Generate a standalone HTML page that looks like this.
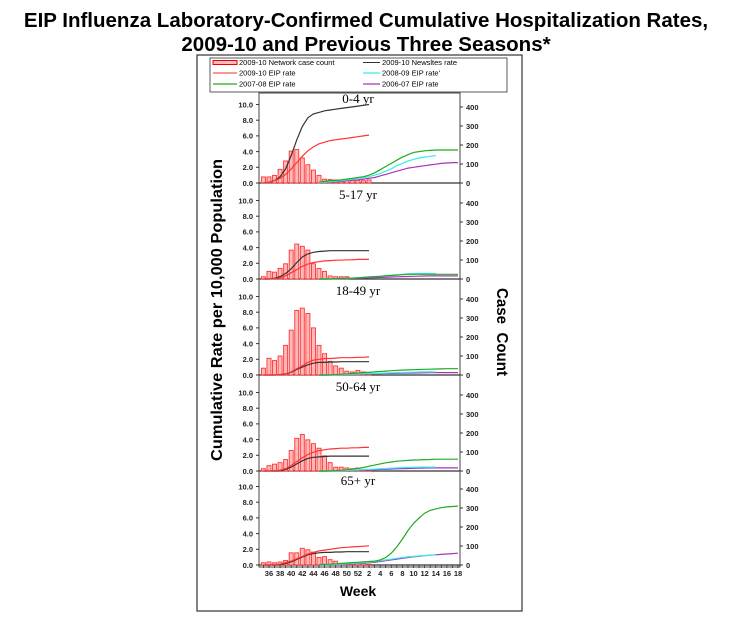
<!DOCTYPE html>
<html><head><meta charset="utf-8"><style>
html,body{margin:0;padding:0;background:#fff;}
svg{display:block;font-family:"Liberation Sans",Arial,sans-serif;}
</style></head><body>
<svg id="chart" width="730" height="620" viewBox="0 0 730 620" xmlns="http://www.w3.org/2000/svg">
<text x="366" y="27" text-anchor="middle" font-size="20.5" font-weight="bold">EIP Influenza Laboratory-Confirmed Cumulative Hospitalization Rates,</text>
<text x="366" y="51" text-anchor="middle" font-size="20.5" font-weight="bold">2009-10 and Previous Three Seasons*</text>
<rect x="197" y="55" width="325" height="556" fill="none" stroke="#333" stroke-width="1.2"/>
<g>
<rect x="210" y="58" width="297" height="34" fill="#fff" stroke="#333" stroke-width="0.8"/>
<g><rect x="213" y="60.5" width="24" height="4" fill="#fbb" stroke="#e00" stroke-width="1"/><text x="239" y="65" font-size="7.5">2009-10 Network case count</text></g>
<g><line x1="363" y1="62.5" x2="380" y2="62.5" stroke="#333" stroke-width="1"/><text x="382" y="65" font-size="7.5">2009-10 Newsltes rate</text></g>
<g><line x1="213" y1="73" x2="237" y2="73" stroke="#f55" stroke-width="1.2"/><text x="239" y="75.5" font-size="7.5">2009-10 EIP rate</text></g>
<g><line x1="363" y1="73" x2="380" y2="73" stroke="#3ee" stroke-width="1.2"/><text x="382" y="75.5" font-size="7.5">2008-09 EIP rate'</text></g>
<g><line x1="213" y1="84" x2="237" y2="84" stroke="#2a2" stroke-width="1.2"/><text x="239" y="86.5" font-size="7.5">2007-08 EIP rate</text></g>
<g><line x1="363" y1="84" x2="380" y2="84" stroke="#a3b" stroke-width="1.2"/><text x="382" y="86.5" font-size="7.5">2006-07 EIP rate</text></g>
</g>
<text transform="translate(222,310) rotate(-90)" text-anchor="middle" font-size="16" font-weight="bold" textLength="302" lengthAdjust="spacingAndGlyphs">Cumulative Rate per 10,000 Population</text>
<text transform="translate(497,332) rotate(90)" text-anchor="middle" font-size="16" font-weight="bold" xml:space="preserve" textLength="88" lengthAdjust="spacingAndGlyphs">Case  Count</text>
<text x="358" y="596" text-anchor="middle" font-size="14" font-weight="bold">Week</text>
<g id="plot"></g>
</svg>
<script>
const panelNames = ["0-4 yr","5-17 yr","18-49 yr","50-64 yr","65+ yr"];
const weekLabels = ["35","36","37","38","39","40","41","42","43","44","45","46","47","48","49","50","51","52","1","2","3","4","5","6","7","8","9","10","11","12","13","14","15","16","17","18"];
const leftTicks = [0,2,4,6,8,10];
const leftTickLabels = ["0.0","2.0","4.0","6.0","8.0","10.0"];
const rightTicks = [0,100,200,300,400];
// case counts per week (idx 0..19)
const counts_0_4 = [32,32,40,72,116,168,176,132,96,68,40,20,18,16,14,14,16,14,12,16];
const counts_5_17 = [12,40,36,56,80,152,184,172,152,80,56,40,16,12,12,12,0,0,0,0];
const counts_18_49 = [36,88,76,100,156,236,340,352,324,248,156,112,72,48,36,20,16,24,16,12];
const counts_50_64 = [12,28,36,44,60,108,172,192,164,144,120,80,44,20,20,16,12,16,8,4];
const counts_65 = [12,16,12,16,24,64,64,88,80,68,40,44,28,20,8,8,12,8,8,4];
// 2009-10 newsletter rate (idx 0..19)
const news_0_4 = [0,0.1,0.3,0.8,1.8,3.5,5.5,7.2,8.3,8.8,9.0,9.2,9.3,9.4,9.5,9.6,9.7,9.8,9.9,10.0];
const news_5_17 = [0,0,0.1,0.3,0.7,1.3,2.1,2.8,3.2,3.4,3.5,3.55,3.6,3.6,3.6,3.6,3.6,3.6,3.6,3.6];
const news_18_49 = [0,0,0,0.05,0.15,0.35,0.7,1.0,1.3,1.5,1.6,1.6,1.65,1.65,1.7,1.7,1.7,1.7,1.7,1.7];
const news_50_64 = [0,0,0,0.05,0.2,0.5,0.9,1.3,1.6,1.75,1.8,1.85,1.9,1.9,1.9,1.9,1.9,1.9,1.9,1.9];
const news_65 = [0,0,0,0.05,0.2,0.4,0.7,1.0,1.3,1.45,1.55,1.6,1.6,1.65,1.65,1.7,1.7,1.7,1.7,1.7];
// 2009-10 EIP rate (idx 0..19)
const eip10_0_4 = [0,0.1,0.3,0.6,1.1,1.8,2.6,3.4,4.1,4.6,5.0,5.2,5.4,5.5,5.6,5.7,5.8,5.9,6.0,6.1];
const eip10_5_17 = [0,0,0.05,0.15,0.4,0.8,1.2,1.6,1.9,2.1,2.2,2.3,2.35,2.4,2.4,2.45,2.45,2.5,2.5,2.5];
const eip10_18_49 = [0,0,0,0.05,0.15,0.4,0.8,1.2,1.6,1.9,2.0,2.1,2.1,2.15,2.2,2.2,2.2,2.25,2.25,2.3];
const eip10_50_64 = [0,0,0.05,0.1,0.3,0.7,1.2,1.7,2.1,2.4,2.6,2.7,2.8,2.85,2.9,2.9,2.95,2.95,3.0,3.0];
const eip10_65 = [0,0,0.05,0.1,0.3,0.5,0.8,1.1,1.4,1.6,1.8,1.9,2.0,2.1,2.2,2.25,2.3,2.35,2.4,2.45];
// prior seasons, starting at week idx 10
const g0708_0_4 = [0.1,0.2,0.3,0.3,0.4,0.5,0.6,0.7,0.8,1.0,1.3,1.7,2.1,2.5,2.9,3.3,3.6,3.9,4.0,4.1,4.15,4.2,4.2,4.2,4.2,4.2];
const c0809_0_4 = [0.05,0.1,0.15,0.2,0.3,0.4,0.5,0.6,0.7,0.8,1.0,1.2,1.5,1.8,2.2,2.5,2.8,3.0,3.2,3.3,3.4,3.5];
const p0607_0_4 = [0.05,0.1,0.1,0.15,0.2,0.3,0.35,0.4,0.5,0.6,0.7,0.9,1.1,1.3,1.5,1.7,1.9,2.0,2.1,2.2,2.3,2.4,2.5,2.55,2.6,2.6];
const g0708_5_17 = [0,0,0.02,0.05,0.08,0.1,0.12,0.15,0.2,0.25,0.3,0.35,0.4,0.45,0.5,0.55,0.6,0.6,0.6,0.6,0.6,0.6,0.6,0.6,0.6,0.6];
const c0809_5_17 = [0,0,0.02,0.05,0.08,0.1,0.12,0.15,0.2,0.25,0.3,0.35,0.45,0.5,0.55,0.6,0.65,0.7,0.7,0.7,0.7,0.7];
const p0607_5_17 = [0,0,0,0.02,0.04,0.06,0.08,0.1,0.12,0.15,0.18,0.2,0.22,0.25,0.28,0.3,0.32,0.35,0.36,0.38,0.4,0.4,0.4,0.4,0.4,0.4];
const g0708_18_49 = [0,0,0.02,0.05,0.1,0.15,0.2,0.25,0.3,0.35,0.4,0.45,0.5,0.55,0.6,0.62,0.65,0.68,0.7,0.72,0.74,0.76,0.78,0.8,0.8,0.8];
const c0809_18_49 = [0,0,0.02,0.04,0.06,0.08,0.1,0.12,0.15,0.18,0.2,0.22,0.25,0.28,0.3,0.32,0.34,0.36,0.38,0.4,0.4,0.4];
const p0607_18_49 = [0,0,0,0.02,0.04,0.06,0.08,0.1,0.12,0.14,0.16,0.18,0.2,0.21,0.22,0.24,0.25,0.26,0.27,0.28,0.29,0.3,0.3,0.3,0.3,0.3];
const g0708_50_64 = [0,0,0.02,0.05,0.1,0.15,0.25,0.35,0.45,0.6,0.75,0.9,1.05,1.15,1.25,1.3,1.35,1.4,1.42,1.45,1.47,1.5,1.5,1.5,1.5,1.5];
const c0809_50_64 = [0,0,0.02,0.04,0.06,0.08,0.1,0.13,0.16,0.2,0.24,0.28,0.32,0.36,0.4,0.43,0.46,0.48,0.5,0.5,0.5,0.5];
const p0607_50_64 = [0,0,0,0.02,0.04,0.06,0.08,0.1,0.12,0.15,0.18,0.2,0.22,0.25,0.28,0.3,0.32,0.34,0.36,0.38,0.4,0.4,0.4,0.4,0.4,0.4];
const g0708_65 = [0.05,0.08,0.1,0.15,0.2,0.25,0.3,0.35,0.4,0.45,0.5,0.65,0.95,1.5,2.3,3.3,4.4,5.3,6.0,6.6,6.95,7.15,7.3,7.4,7.45,7.5];
const c0809_65 = [0,0.02,0.05,0.08,0.1,0.15,0.2,0.25,0.3,0.35,0.45,0.55,0.65,0.75,0.85,0.95,1.05,1.1,1.15,1.2,1.25,1.3];
const p0607_65 = [0,0,0.02,0.04,0.06,0.1,0.15,0.2,0.25,0.3,0.35,0.45,0.55,0.65,0.75,0.85,0.95,1.05,1.1,1.2,1.25,1.3,1.35,1.4,1.45,1.5];

const countsByPanel = [counts_0_4,counts_5_17,counts_18_49,counts_50_64,counts_65];
const newsByPanel = [news_0_4,news_5_17,news_18_49,news_50_64,news_65];
const eip10ByPanel = [eip10_0_4,eip10_5_17,eip10_18_49,eip10_50_64,eip10_65];
const greenByPanel = [g0708_0_4,g0708_5_17,g0708_18_49,g0708_50_64,g0708_65];
const cyanByPanel = [c0809_0_4,c0809_5_17,c0809_18_49,c0809_50_64,c0809_65];
const purpleByPanel = [p0607_0_4,p0607_5_17,p0607_18_49,p0607_50_64,p0607_65];
const priorStart = 10;

const NS = "http://www.w3.org/2000/svg";
const plot = document.getElementById("plot");
const X0 = 263.4, DX = 5.56, AXL = 259, AXR = 460;
const zeros = [183, 279, 375, 471, 565];
const RATE_PX = 7.85, COUNT_PX = 0.19;
function xs(i){ return X0 + DX*i; }
function mk(tag, attrs, parent){ const e=document.createElementNS(NS,tag); for(const k in attrs) e.setAttribute(k,attrs[k]); (parent||plot).appendChild(e); return e; }
function linePath(vals, start, z){ return vals.map((v,j)=>(j?"L":"M")+xs(start+j).toFixed(1)+","+(z-v*RATE_PX).toFixed(1)).join(""); }

mk("rect",{x:AXL,y:93,width:AXR-AXL,height:474,fill:"none",stroke:"#444","stroke-width":1});

panelNames.forEach((name,p)=>{
  const z = zeros[p];
  const g = mk("g",{});
  
  
  const base = mk("line",{x1:AXL,x2:AXR,y1:z,y2:z,stroke:"#333","stroke-width":1.2},g);
  
  
  const lab = mk("text",{x:358,y:z-80,"text-anchor":"middle","font-size":13,"font-family":"Liberation Serif,serif"},g);
  lab.textContent = name;
  
  
  leftTicks.forEach((t,k)=>{
    const y = z - t*RATE_PX;
    mk("line",{x1:AXL-3,x2:AXL,y1:y,y2:y,stroke:"#333","stroke-width":1},g);
    const tl = mk("text",{x:253,y:y+2.8,"text-anchor":"end","font-size":7.5,"font-weight":"bold",fill:"#222"},g);
    tl.textContent = leftTickLabels[k];
    
    
  });
  rightTicks.forEach(t=>{
    const y = z - t*COUNT_PX;
    mk("line",{x1:AXR,x2:AXR+3,y1:y,y2:y,stroke:"#333","stroke-width":1},g);
    const tl = mk("text",{x:466,y:y+2.8,"font-size":7.5,"font-weight":"bold",fill:"#222"},g);
    tl.textContent = String(t);
    
    
  });
  countsByPanel[p].forEach((c,i)=>{
    if(!c) return;
    const h = c*COUNT_PX;
    const b = mk("rect",{x:xs(i)-2,y:z-h,width:4,height:h,fill:"#fbb",stroke:"#f33","stroke-width":0.9},g);
    
    
  });
  const series = [
    [purpleByPanel[p], priorStart, "#a3b", "line-2006-07-eip"],
    [cyanByPanel[p], priorStart, "#3ee", "line-2008-09-eip"],
    [greenByPanel[p], priorStart, "#2a2", "line-2007-08-eip"],
    [newsByPanel[p], 0, "#333", "line-2009-10-newsletter"],
    [eip10ByPanel[p], 0, "#f33", "line-2009-10-eip"]
  ];
  series.forEach(s=>{
    const pth = mk("path",{d:linePath(s[0],s[1],z),fill:"none",stroke:s[2],"stroke-width":1.2},g);
    
    
  });
});
weekLabels.forEach((w,i)=>{
  const x = xs(i);
  mk("line",{x1:x,x2:x,y1:565,y2:568,stroke:"#333","stroke-width":0.8});
  if(i%2===1){
    const t = mk("text",{x:x,y:576,"text-anchor":"middle","font-size":7.5,"font-weight":"bold",fill:"#222"});
    t.textContent = w;
    
    
  }
});
</script>
</body></html>
